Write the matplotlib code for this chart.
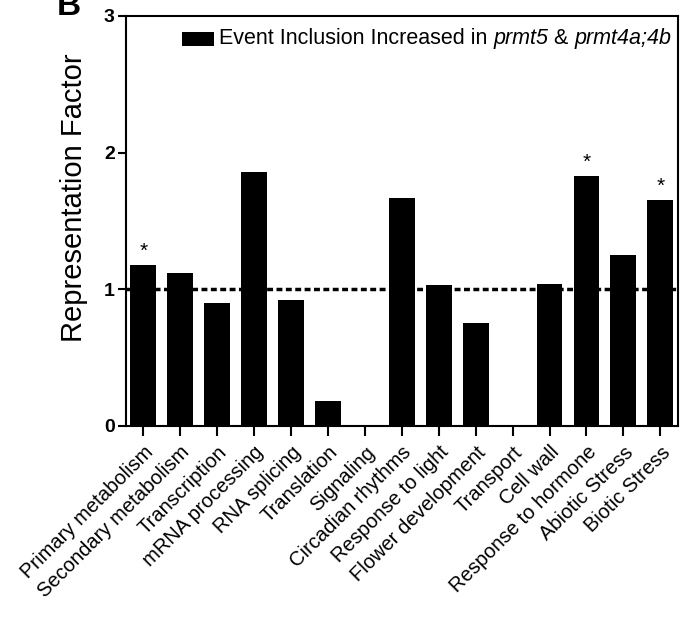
import matplotlib.pyplot as plt
from matplotlib.offsetbox import (AnchoredOffsetbox, DrawingArea, HPacker,
                                  TextArea)
from matplotlib.patches import Rectangle

plt.rcParams['font.family'] = ['Liberation Sans', 'DejaVu Sans']

categories = ['Primary metabolism', 'Secondary metabolism', 'Transcription',
              'mRNA processing', 'RNA splicing', 'Translation', 'Signaling',
              'Circadian rhythms', 'Response to light', 'Flower development',
              'Transport', 'Cell wall', 'Response to hormone', 'Abiotic Stress',
              'Biotic Stress']
factors = [1.18, 1.12, 0.90, 1.86, 0.92, 0.18, 0.0, 1.67, 1.03, 0.75,
           0.0, 1.04, 1.83, 1.25, 1.65]
significant = ['Primary metabolism', 'Response to hormone', 'Biotic Stress']
y_ticks = [0, 1, 2, 3]
# legendtext: (text, kursiv?)
legend_parts = [('Event Inclusion Increased in ', False), ('prmt5', True),
                (' & ', False), ('prmt4a;4b', True)]

fig = plt.figure(figsize=(6.88, 6.17), dpi=100)
ax = fig.add_axes([0.183, 0.3096, 0.8025, 0.6645])

x = list(range(len(categories)))
ax.bar(x, factors, width=0.70, color='black')

# linje vid faktor 1
ax.axhline(1, color='black', linewidth=2.5, linestyle=(0, (1.7, 1.0)), zorder=3)

# stjärnor över signifikanta staplar
for xi, name, val in zip(x, categories, factors):
    if name in significant:
        ax.annotate('*', (xi, val), xytext=(0, 3), textcoords='offset points',
                    ha='center', va='bottom', fontsize=15)

ax.set_xlim(-0.47, len(categories) - 0.52)
ax.set_ylim(0, 3)
ax.set_yticks(y_ticks)
ax.set_yticklabels([str(t) for t in y_ticks], fontsize=14, fontweight='bold')
ax.set_xticks(x)
ax.set_xticklabels(categories, rotation=45, ha='right', rotation_mode='anchor',
                   fontsize=14.5)
ax.tick_params(axis='y', length=6, width=1.5, pad=2)
ax.tick_params(axis='x', length=7, width=1.5, pad=5)
ax.set_ylabel('Representation Factor', fontsize=21)
ax.yaxis.set_label_coords(-0.069, 0.557)

for s in ax.spines.values():
    s.set_linewidth(1.5)

# legend med kursiva gennamn
handle = DrawingArea(23, 10.5, 0, 0)
handle.add_artist(Rectangle((0, 0), 23, 10.5, facecolor='black', edgecolor='none'))
boxes = [handle, TextArea(' ', textprops=dict(fontsize=12))]
for txt, italic in legend_parts:
    boxes.append(TextArea(txt, textprops=dict(fontsize=15.5,
                                              style='italic' if italic else 'normal')))
packed = HPacker(children=boxes, align='center', pad=0, sep=0)
leg = AnchoredOffsetbox(loc='upper right', child=packed, frameon=False,
                        pad=0, borderpad=0.45, bbox_to_anchor=(1, 0.985),
                        bbox_transform=ax.transAxes)
ax.add_artist(leg)

fig.text(0.083, 0.976, 'B', fontsize=24, fontweight='bold', va='baseline')

fig.savefig('out.png', dpi=100)
